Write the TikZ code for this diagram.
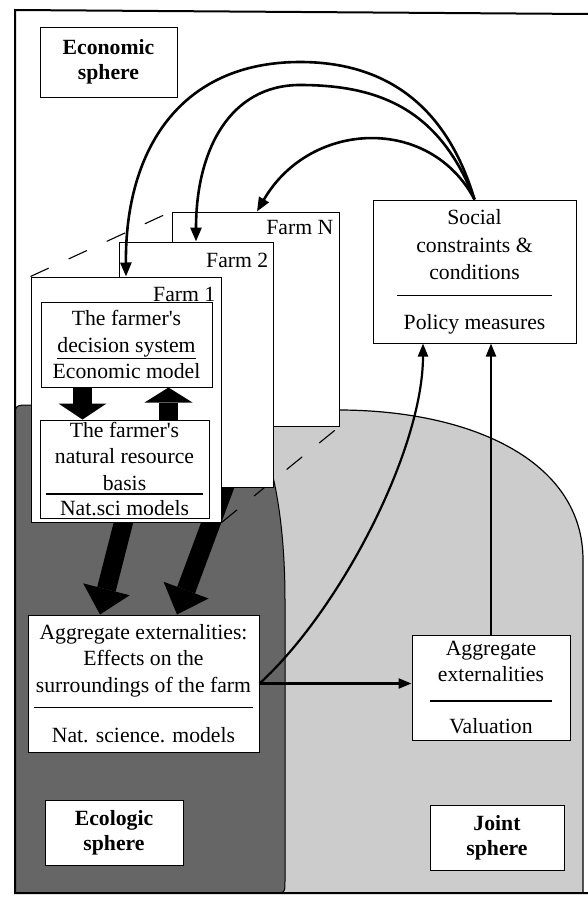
\documentclass[tikz,border=0pt]{standalone}
\usepackage{fontspec}
\setmainfont{Liberation Serif}
\usepackage{tikz}
\usetikzlibrary{positioning}
\usetikzlibrary{arrows.meta, backgrounds}

\newcommand{\sepline}[1]{\rule{#1}{1.6pt}}

\begin{document}
\begin{tikzpicture}[x=1pt, y=-1pt,
        txt/.style={font=\fontsize{21.7}{26.5}\selectfont},
        box/.style={txt, draw, line width=1pt, fill=white, align=center, inner sep=2pt},
        spherebox/.style={box, font=\fontsize{21.7}{25}\selectfont\bfseries},
        farmbox/.style={draw, line width=1pt, fill=white, inner sep=0pt},
        farmlabel/.style={txt, inner sep=0pt, anchor=base east},
        curvearrow/.style={line width=2.6pt, -{Triangle[length=14pt, width=11pt]}},
        flow/.style={line width=2.2pt, -{Triangle[length=13pt, width=10pt]}},
        fat/.style={line width=19pt, -{Triangle[length=26pt, width=48pt, line width=0pt]}},
        stackline/.style={line width=1.1pt, dash pattern=on 20pt off 22pt},
        ecoregion/.style={fill=black!60, draw=black, line width=1pt},
        jointregion/.style={fill=black!20, draw=black, line width=1.2pt}]

        \useasboundingbox (0,0) rectangle (588,897);

        \node (eco)[spherebox, minimum width=137pt, minimum height=70pt] at (108.5,62) {Economic\\sphere};

        \node (farmN)[farmbox, minimum width=167pt, minimum height=214pt] at (255.5,319) {};
        \node (labN)[farmlabel] at ([xshift=-6pt, yshift=-23pt]farmN.north east) {Farm N};
        \node (farm2)[farmbox, minimum width=154pt, minimum height=245pt] at (196,364.5) {};
        \node (lab2)[farmlabel] at ([xshift=-5pt, yshift=-26pt]farm2.north east) {Farm 2};
        \node (farm1)[farmbox, minimum width=190pt, minimum height=245pt] at (126,399.5) {};
        \node (lab1)[farmlabel] at ([xshift=-6pt, yshift=-25pt]farm1.north east) {Farm 1};

        \node (dec)[box, minimum width=171pt, minimum height=85pt] at (126.5,344.5)
                {The farmer\textquotesingle s\\\underline{decision system}\\Economic model};
        \node (nat)[box, minimum width=169pt, minimum height=98pt] at (124.5,469)
                {The farmer\textquotesingle s\\natural resource\\basis\\[-22pt]\sepline{157pt}\\[-6pt]Nat.sci models};

        \node (soc)[box, minimum width=203pt, minimum height=143pt] at (474.5,271.5)
                {Social\\[2pt]constraints \&\\conditions\\[-9.5pt]\sepline{155pt}\\[6.5pt]Policy measures};
        \node (agg)[box, minimum width=231pt, minimum height=137pt] at (143.5,683.5)
                {Aggregate externalities:\\Effects on the\\surroundings of the farm\\[-10.5pt]\sepline{219pt}\\[7.5pt]Nat. science. models};
        \node (val)[box, minimum width=158pt, minimum height=105pt] at (491,687.5)
                {Aggregate\\externalities\\[-6.5pt]\sepline{122pt}\\[5.5pt]Valuation};

        \node (ecol)[spherebox, minimum width=138pt, minimum height=65pt] at (114,832.5) {Ecologic\\sphere};
        \node (joint)[spherebox, minimum width=134pt, minimum height=65pt] at (497,837.5) {Joint\\sphere};

        \begin{scope}[on background layer]
                \filldraw[jointregion] (200,410) -- (338,410) .. controls (470,410) and (583,460) .. (583,560)
                        -- (583,893) -- (200,893) -- cycle;
                \filldraw[ecoregion] (15,893) -- (15,420) .. controls (15,405) .. (30,405) -- (230,405)
                        .. controls (262,410) and (285,490) .. (285,600) -- (285,881) .. controls (285,893) .. (273,893) -- cycle;
                \draw[stackline] (farm1.north west) -- (farmN.north west);
                \draw[stackline] (farm1.south east) -- (farmN.south east);
                \draw[fat] ([yshift=10pt]farm1.south) -- ([xshift=-43.5pt]agg.north);
                \draw[fat] ([xshift=32pt, yshift=10pt]farm2.south) -- ([xshift=33.5pt]agg.north);
        \end{scope}

        \draw[fat, -{Triangle[length=16pt, width=48pt, line width=0pt]}] ([xshift=-44pt]dec.south) -- ([xshift=-44pt]dec.south |- nat.north);
        \draw[fat, -{Triangle[length=15pt, width=48pt, line width=0pt]}] ([xshift=44pt]nat.north) -- ([xshift=44pt]nat.north |- dec.south);

        \draw[curvearrow] (soc.north) .. controls (445,100) and (380,62) .. (300,62) .. controls (180,62) and (125,150) .. (farm1.north);
        \draw[curvearrow] (soc.north) .. controls (440,110) and (380,85) .. (300,85) .. controls (230,85) and (196,150) .. (farm2.north);
        \draw[curvearrow] (soc.north) .. controls (430,115) and (310,120) .. ([xshift=1.5pt]farmN.north);

        \draw[flow] (agg.east) -- (agg.east -| val.west);
        \draw[flow] (agg.east) .. controls (340,610) and (423,450) .. ([xshift=-51.5pt]soc.south);
        \draw[flow] (val.north) -- (val.north |- soc.south);

        \draw[line width=2pt] (588,14) -- (15,10) -- (15,893) -- (588,893);

    \end{tikzpicture}
\end{document}
